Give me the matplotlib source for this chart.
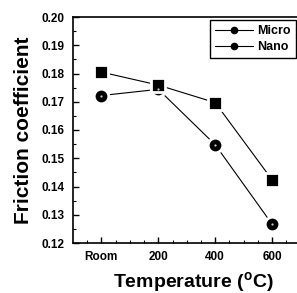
import matplotlib
matplotlib.use("Agg")
import matplotlib.pyplot as plt
from matplotlib.lines import Line2D
from matplotlib.ticker import MultipleLocator, FixedLocator

plt.rcParams['font.family'] = ['Liberation Sans', 'DejaVu Sans']

categories = ["Room", "200", "400", "600"]
micro = [0.1805, 0.1759, 0.1697, 0.1424]
nano = [0.1722, 0.1744, 0.1548, 0.1267]

fig = plt.figure(figsize=(2.97, 2.93), dpi=100)
ax = fig.add_axes([73/297, 1-243/293, 240/297, 226/293])

x = list(range(len(categories)))
ax.plot(x, nano, color='black', lw=0.8, marker='o', ms=10.5,
        mfc='black', mec='white', mew=2.0, zorder=3)
ax.plot(x, micro, color='black', lw=0.8, marker='s', ms=9.5,
        mfc='black', mec='white', mew=2.0, zorder=3)
# inner highlight of circles (scan look)
ax.plot(x, nano, ls='none', marker='o', ms=1.6, mfc='#cccccc', mec='none', zorder=4)

ax.set_xlim(-0.5, 3.72)
ax.set_ylim(0.12, 0.20)
ax.set_xticks(x)
ax.set_xticklabels(categories)
ax.xaxis.set_minor_locator(FixedLocator([-0.25, 0.25, 0.5, 0.75, 1.25, 1.5, 1.75, 2.25, 2.5, 2.75, 3.25]))
ax.yaxis.set_major_locator(MultipleLocator(0.01))
ax.yaxis.set_minor_locator(MultipleLocator(0.005))
ax.yaxis.set_major_formatter(plt.FuncFormatter(lambda v, p: f"{v:.2f}"))

ax.tick_params(which='major', direction='in', length=4, width=1.0, labelsize=8.5, pad=6)
ax.tick_params(which='minor', direction='in', length=2, width=0.8)
for lab in ax.get_xticklabels() + ax.get_yticklabels():
    lab.set_fontweight('bold')
for s in ax.spines.values():
    s.set_linewidth(1.2)

ax.set_ylabel("Friction coefficient", fontsize=15, fontweight='bold', labelpad=6)
ax.set_xlabel("Temperature ($\\mathregular{^o}$C)", fontsize=14, fontweight='bold', labelpad=5)

handles = [Line2D([0], [0], color='black', lw=0.8, marker='o', ms=4.5, mfc='black', mec='black'),
           Line2D([0], [0], color='black', lw=0.8, marker='o', ms=4.5, mfc='black', mec='black')]
leg = ax.legend(handles, ["Micro", "Nano"], loc='upper right',
                bbox_to_anchor=((296-73)/240, 1-3/226),
                fancybox=False, edgecolor='black', framealpha=1, prop={'weight': 'bold', 'size': 9},
                handlelength=3.0, handletextpad=0.4, borderpad=0.4, labelspacing=0.35,
                borderaxespad=0)
leg.get_frame().set_linewidth(1.0)

fig.savefig("out.png", dpi=100)
